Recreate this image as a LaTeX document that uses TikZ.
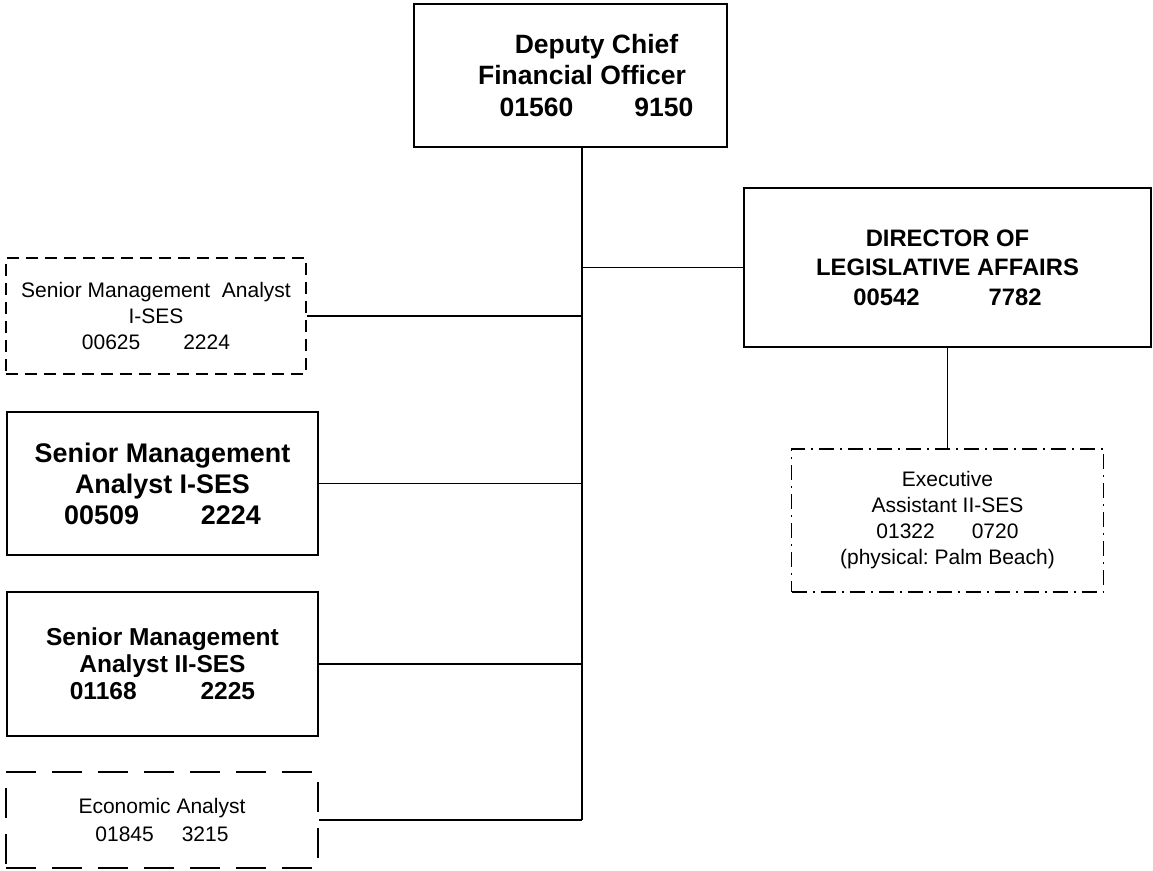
\documentclass[tikz,border=0pt]{standalone}
\usepackage{fontspec}
\setmainfont{Liberation Sans}
\frenchspacing
\begin{document}
\begin{tikzpicture}[x=1pt,y=-1pt,
  box/.style={draw=black,line width=1.5pt,inner sep=0pt,align=center,anchor=center},
  shortdash/.style={dash pattern=on 12pt off 7pt},
  longdash/.style={dash pattern=on 30pt off 16pt},
  dashdotted box/.style={dash pattern=on 15pt off 6pt on 2pt off 6pt},
  link/.style={draw=black,line width=1.6pt},
  plain/.style={font=\fontsize{21}{26}\selectfont},
]
\useasboundingbox (0,0) rectangle (1153,870);

% top of the chart
\node[box,minimum width=313pt,minimum height=143pt,
      font=\bfseries\fontsize{26.5}{31.5}\selectfont] (dcfo) at (570.5,75.5)
  {\hspace*{52pt}Deputy Chief\\ \hspace*{23pt}Financial Officer\\
   \hspace*{52pt}01560\hspace{61pt}9150};

% right branch
\node[box,minimum width=407pt,minimum height=159pt,
      font=\bfseries\fontsize{23.8}{29.5}\selectfont] (dir) at (947.5,267.5)
  {DIRECTOR OF\\ LEGISLATIVE AFFAIRS\\ 00542\hspace{69pt}7782};
\node[box,dashdotted box,minimum width=312pt,minimum height=143pt,plain] (exec) at (947.5,520.5)
  {Executive\\ Assistant II-SES\\ 01322\hspace{37pt}0720\\ (physical: Palm Beach)};

% left branch
\node[box,shortdash,minimum width=300pt,minimum height=116pt,plain] (sma1) at (156,316)
  {Senior Management~ Analyst\\ I-SES\\ 00625\hspace{43pt}2224};
\node[box,minimum width=311pt,minimum height=143pt,
      font=\bfseries\fontsize{26.9}{31}\selectfont] (sma2) at (162.5,483.5)
  {Senior Management\\ Analyst I-SES\\ 00509\hspace{62pt}2224};
\node[box,minimum width=311pt,minimum height=144pt,
      font=\bfseries\fontsize{24.5}{27}\selectfont] (sma3) at (162.5,664)
  {Senior Management\\ Analyst II-SES\\ 01168\hspace{64pt}2225};
\node[box,longdash,minimum width=312pt,minimum height=96pt,
      font=\fontsize{21}{28}\selectfont] (econ) at (162,820)
  {Economic Analyst\\ 01845\hspace{28pt}3215};

% connectors
\coordinate (trunk) at (582,820);
\draw[link] (dcfo.south -| trunk) -- (trunk);
\draw[link] (dir.west -| trunk) -- (dir.west);
\draw[link] (dir.south) -- (exec.north);
\draw[link] (sma1.east) -- (sma1.east -| trunk);
\draw[link] (sma2.east) -- (sma2.east -| trunk);
\draw[link] (sma3.east) -- (sma3.east -| trunk);
\draw[link] (econ.east) -- (trunk);
\end{tikzpicture}
\end{document}
